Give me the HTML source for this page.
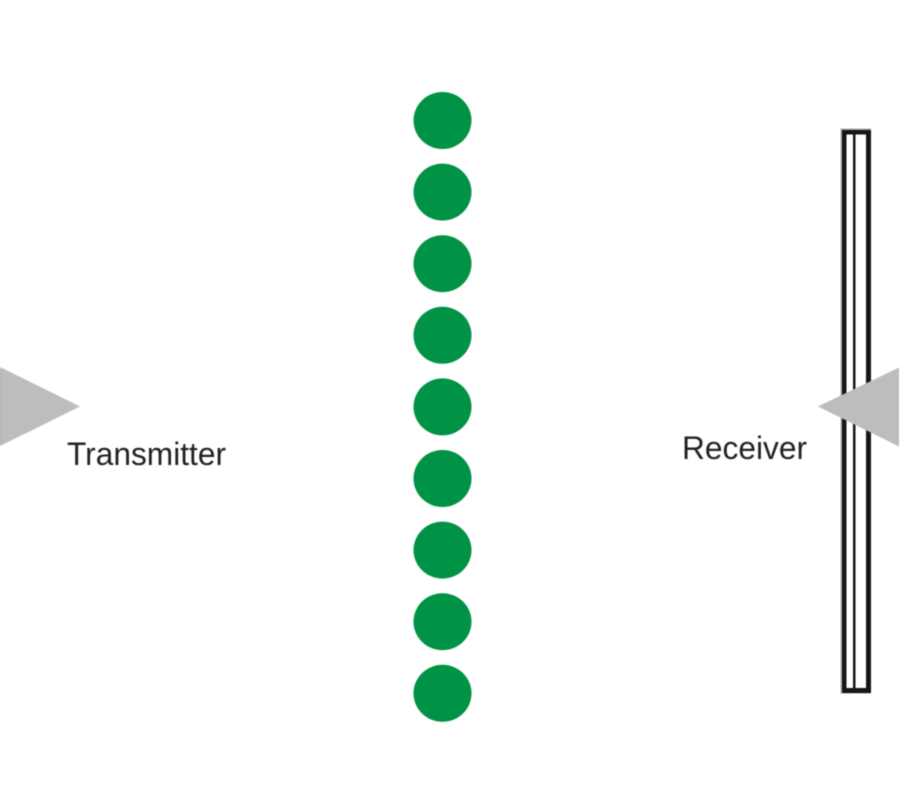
<!DOCTYPE html>
<html>
<head>
<meta charset="utf-8">
<style>
html,body{margin:0;padding:0;background:#fff;}
svg{display:block;filter:blur(0.4px);}
text{font-family:"Liberation Sans",sans-serif;font-size:32px;fill:#222;}
</style>
</head>
<body>
<svg width="900" height="800" viewBox="0 0 900 800" xmlns="http://www.w3.org/2000/svg">
<rect width="900" height="800" fill="#fff"/>
<g fill="#009245">
<ellipse cx="442.5" cy="120.5" rx="29" ry="28.5"/>
<ellipse cx="442.5" cy="192.1" rx="29" ry="28.5"/>
<ellipse cx="442.5" cy="263.7" rx="29" ry="28.5"/>
<ellipse cx="442.5" cy="335.3" rx="29" ry="28.5"/>
<ellipse cx="442.5" cy="406.9" rx="29" ry="28.5"/>
<ellipse cx="442.5" cy="478.5" rx="29" ry="28.5"/>
<ellipse cx="442.5" cy="550.1" rx="29" ry="28.5"/>
<ellipse cx="442.5" cy="621.7" rx="29" ry="28.5"/>
<ellipse cx="442.5" cy="693.3" rx="29" ry="28.5"/>
</g>
<rect x="840.5" y="128.5" width="30.5" height="565" fill="#a8a8a8"/>
<rect x="842" y="130" width="29" height="563" fill="#161616"/>
<rect x="846.5" y="134.5" width="6.5" height="553.5" fill="#fff"/>
<rect x="855.5" y="134.5" width="10.5" height="553.5" fill="#fff"/>
<polygon points="0,367 80,406.5 0,446" fill="#bdbdbd"/>
<rect x="0" y="369" width="1" height="76" fill="#a0a0a0"/>
<polygon points="818,406.5 899,367.5 899,446.5" fill="#bdbdbd"/>
<text x="67" y="465" textLength="159" lengthAdjust="spacingAndGlyphs">Transmitter</text>
<text x="682" y="459" textLength="125" lengthAdjust="spacingAndGlyphs">Receiver</text>
</svg>
</body>
</html>
